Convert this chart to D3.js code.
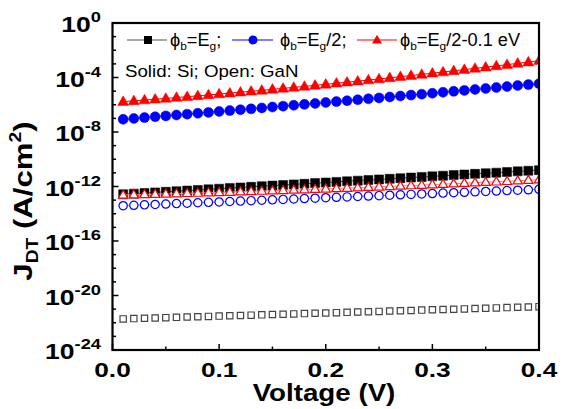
<!DOCTYPE html>
<html><head><meta charset="utf-8">
<script src="https://cdn.jsdelivr.net/npm/d3@7"></script>
<style>html,body{margin:0;padding:0;background:#fff;}svg{display:block;font-family:"Liberation Sans",Arial,sans-serif;}</style>
</head><body>
<svg id="c" width="569" height="409"></svg>
<script>
const voltage = [0.01,0.02,0.03,0.04,0.05,0.06,0.07,0.08,0.09,0.10,0.11,0.12,0.13,0.14,0.15,0.16,0.17,0.18,0.19,0.20,0.21,0.22,0.23,0.24,0.25,0.26,0.27,0.28,0.29,0.30,0.31,0.32,0.33,0.34,0.35,0.36,0.37,0.38,0.39,0.40];

// Solid: Si
const siEg = [2.69e-13,2.99e-13,3.32e-13,3.68e-13,4.09e-13,4.54e-13,5.04e-13,5.60e-13,6.21e-13,6.90e-13,7.66e-13,8.49e-13,9.44e-13,1.05e-12,1.16e-12,1.29e-12,1.43e-12,1.59e-12,1.77e-12,1.96e-12,2.18e-12,2.42e-12,2.69e-12,2.98e-12,3.31e-12,3.67e-12,4.07e-12,4.53e-12,5.02e-12,5.58e-12,6.19e-12,6.87e-12,7.64e-12,8.47e-12,9.42e-12,1.04e-11,1.16e-11,1.29e-11,1.43e-11,1.59e-11];
const siEg2 = [8.51e-8,9.84e-8,1.14e-7,1.32e-7,1.52e-7,1.77e-7,2.05e-7,2.37e-7,2.75e-7,3.20e-7,3.72e-7,4.32e-7,5.01e-7,5.83e-7,6.79e-7,7.91e-7,9.20e-7,1.07e-6,1.25e-6,1.46e-6,1.70e-6,1.99e-6,2.32e-6,2.72e-6,3.18e-6,3.72e-6,4.36e-6,5.09e-6,5.97e-6,7.00e-6,8.20e-6,9.64e-6,1.13e-5,1.33e-5,1.56e-5,1.84e-5,2.16e-5,2.55e-5,3.00e-5,3.53e-5];
const siEg2m = [1.70e-6,1.94e-6,2.22e-6,2.55e-6,2.93e-6,3.38e-6,3.91e-6,4.53e-6,5.26e-6,6.11e-6,7.13e-6,8.34e-6,9.77e-6,1.15e-5,1.35e-5,1.60e-5,1.88e-5,2.23e-5,2.65e-5,3.16e-5,3.78e-5,4.52e-5,5.42e-5,6.52e-5,7.85e-5,9.48e-5,1.15e-4,1.39e-4,1.69e-4,2.07e-4,2.52e-4,3.09e-4,3.79e-4,4.67e-4,5.75e-4,7.11e-4,8.81e-4,1.09e-3,1.36e-3,1.70e-3];
// Open: GaN
const ganEg = [1.91e-22,2.01e-22,2.12e-22,2.23e-22,2.36e-22,2.49e-22,2.62e-22,2.77e-22,2.92e-22,3.08e-22,3.24e-22,3.42e-22,3.61e-22,3.80e-22,4.01e-22,4.24e-22,4.47e-22,4.71e-22,4.97e-22,5.24e-22,5.52e-22,5.82e-22,6.14e-22,6.47e-22,6.82e-22,7.21e-22,7.60e-22,8.02e-22,8.45e-22,8.91e-22,9.40e-22,9.91e-22,1.04e-21,1.10e-21,1.16e-21,1.23e-21,1.29e-21,1.36e-21,1.44e-21,1.52e-21];
const ganEg2 = [3.89e-14,4.18e-14,4.49e-14,4.81e-14,5.16e-14,5.55e-14,5.96e-14,6.40e-14,6.86e-14,7.36e-14,7.91e-14,8.49e-14,9.12e-14,9.77e-14,1.05e-13,1.13e-13,1.21e-13,1.30e-13,1.39e-13,1.50e-13,1.61e-13,1.73e-13,1.85e-13,1.99e-13,2.13e-13,2.29e-13,2.46e-13,2.64e-13,2.83e-13,3.04e-13,3.27e-13,3.51e-13,3.77e-13,4.04e-13,4.34e-13,4.66e-13,5.00e-13,5.37e-13,5.75e-13,6.18e-13];
const ganEg2m = [2.40e-13,2.51e-13,2.62e-13,2.75e-13,2.88e-13,3.02e-13,3.18e-13,3.34e-13,3.52e-13,3.72e-13,3.92e-13,4.14e-13,4.39e-13,4.65e-13,4.93e-13,5.24e-13,5.56e-13,5.92e-13,6.31e-13,6.73e-13,7.19e-13,7.69e-13,8.24e-13,8.83e-13,9.48e-13,1.02e-12,1.10e-12,1.18e-12,1.27e-12,1.37e-12,1.49e-12,1.61e-12,1.74e-12,1.89e-12,2.06e-12,2.23e-12,2.43e-12,2.65e-12,2.89e-12,3.16e-12];

const xTicks = [0.0,0.1,0.2,0.3,0.4];
const yTickExps = [0,-4,-8,-12,-16,-20,-24];
const legendLabels = [["ϕ","b","=E","g",";"],["ϕ","b","=E","g","/2;"],["ϕ","b","=E","g","/2-0.1 eV"]];
const noteText = "Solid: Si; Open: GaN";

const svg = d3.select("#c");
const L=112.5, R=539, T=23, B=350;
const x = d3.scaleLinear().domain([0,0.4]).range([L,R]);
const y = d3.scaleLog().domain([1e-24,1]).range([B,T]);

svg.append("defs").append("clipPath").attr("id","clip")
  .append("rect").attr("x",L).attr("y",T).attr("width",R-L).attr("height",B-T);

// text helper: widened glyphs like the reference
function txt(px,py,sx,rot){
  return svg.append("text").attr("transform",`translate(${px},${py})${rot?` rotate(${rot})`:""} scale(${sx},1)`);
}

// axes ticks (inward)
const g = svg.append("g");
const xMinor = d3.range(0,0.4001,0.05);
g.selectAll(".xt").data(xMinor).enter().append("line")
  .attr("x1",d=>x(d)).attr("x2",d=>x(d)).attr("y1",B)
  .attr("y2",(d,i)=> i%2===0 ? B-6 : B-3.5).attr("stroke","#000").attr("stroke-width",1.5);
const yMinorExps = d3.range(-24,1,1);
g.selectAll(".yt").data(yMinorExps).enter().append("line")
  .attr("y1",d=>y(Math.pow(10,d))).attr("y2",d=>y(Math.pow(10,d))).attr("x1",L)
  .attr("x2",d=> d%4===0 ? L+6 : L+3.5).attr("stroke","#000").attr("stroke-width",1.5);

// series
const series = [
  {v:siEg, color:"#000", line:"#555", shape:"square", fill:true, size:9},
  {v:siEg2, color:"#0000ff", line:"#0000ff", shape:"circle", fill:true, size:10},
  {v:siEg2m, color:"#ff0000", line:"#ff0000", shape:"triangle", fill:true, size:11},
  {v:ganEg, color:"#444", line:"none", shape:"square", fill:false, size:7.5},
  {v:ganEg2, color:"#0000ff", line:"#8080ff", shape:"circle", fill:false, size:9.5},
  {v:ganEg2m, color:"#ff0000", line:"#ff8080", shape:"triangle", fill:false, size:10.5}
];
function shapePath(shape,s){
  if(shape==="square") return `M${-s/2},${-s/2}h${s}v${s}h${-s}Z`;
  if(shape==="circle") { const r=s/2; return `M${r},0A${r},${r} 0 1,1 ${-r},0A${r},${r} 0 1,1 ${r},0Z`; }
  const h=s*0.87; return `M0,${-h*0.6}L${s/2},${h*0.4}L${-s/2},${h*0.4}Z`;
}
const plot = svg.append("g").attr("clip-path","url(#clip)");
series.forEach(s=>{
  const pts = voltage.map((v,i)=>[v,s.v[i]]);
  if(s.line!=="none"){
    plot.append("path").datum(pts)
      .attr("d", d3.line().x(d=>x(d[0])).y(d=>y(d[1])))
      .attr("fill","none").attr("stroke",s.line).attr("stroke-width",1);
  }
  plot.selectAll(null).data(pts).enter().append("path")
    .attr("transform",d=>`translate(${x(d[0])},${y(d[1])})`)
    .attr("d",shapePath(s.shape, s.fill? s.size : s.size-1.2))
    .attr("fill", s.fill ? s.color : "#fff")
    .attr("stroke", s.color).attr("stroke-width", s.fill?0.5:1.2);
});

// frame
svg.append("rect").attr("x",L).attr("y",T).attr("width",R-L).attr("height",B-T)
  .attr("fill","none").attr("stroke","#000").attr("stroke-width",2.2);

// x tick labels
xTicks.forEach(d=>{
  txt(x(d),377,1.25).attr("text-anchor","middle")
    .attr("font-size",21).attr("font-weight","bold").text(d.toFixed(1));
});
// y tick labels
yTickExps.forEach(e=>{
  const t = txt(101,y(Math.pow(10,e))+9,1.18)
    .attr("text-anchor","end").attr("font-size",22.5).attr("font-weight","bold");
  t.append("tspan").text("10");
  t.append("tspan").attr("font-size",15.5).attr("dy",-10).text(e===0?"0":"-"+(-e));
});
// axis titles
txt(324,401,1.18).attr("text-anchor","middle")
  .attr("font-size",23.5).attr("font-weight","bold").text("Voltage (V)");
const yt = txt(32,201,1.2,-90)
  .attr("text-anchor","middle").attr("font-size",26).attr("font-weight","bold");
yt.append("tspan").text("J");
yt.append("tspan").attr("font-size",16).attr("dy",6).text("DT");
yt.append("tspan").attr("dy",-6).text(" (A/cm");
yt.append("tspan").attr("font-size",16).attr("dy",-11).text("2");
yt.append("tspan").attr("dy",11).text(")");

// legend
const legX = [[127,167,148,170],[232,273,253,280],[357,397,377,400]];
const legY = 40;
series.slice(0,3).forEach((s,i)=>{
  const [x1,x2,mx,tx] = legX[i];
  svg.append("line").attr("x1",x1).attr("x2",x2).attr("y1",legY).attr("y2",legY)
    .attr("stroke",s.line).attr("stroke-width",1.2);
  svg.append("path").attr("transform",`translate(${mx},${legY})`)
    .attr("d",shapePath(s.shape,s.size-1)).attr("fill",s.color);
  const t = txt(tx,legY+6,1.04).attr("font-size",17.5);
  const lab = legendLabels[i];
  t.append("tspan").text(lab[0]);
  t.append("tspan").attr("font-size",11.5).attr("dy",4).text(lab[1]);
  t.append("tspan").attr("dy",-4).text(lab[2]);
  t.append("tspan").attr("font-size",11.5).attr("dy",4).text(lab[3]);
  t.append("tspan").attr("dy",-4).text(lab[4]);
});
txt(125,77,1.1).attr("font-size",17).text(noteText);
</script>
</body></html>
